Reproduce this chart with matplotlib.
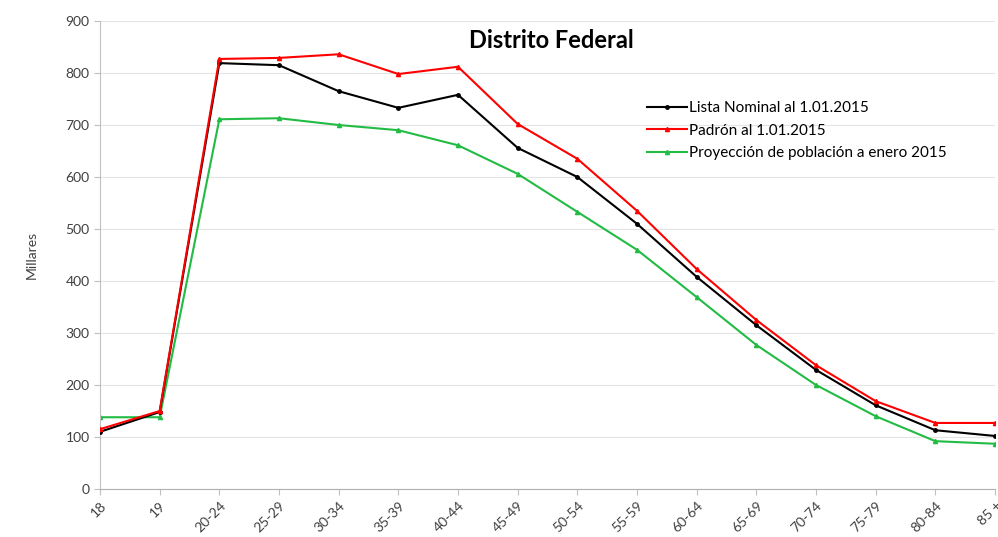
import matplotlib.pyplot as plt

plt.rcParams['font.family'] = ['Lato', 'DejaVu Sans']

edades = ['18', '19', '20-24', '25-29', '30-34', '35-39', '40-44', '45-49', '50-54',
          '55-59', '60-64', '65-69', '70-74', '75-79', '80-84', '85 +']
lista = [110, 148, 819, 815, 765, 733, 758, 656, 600, 510, 408, 315, 229, 161, 113, 102]
padron = [115, 150, 827, 829, 836, 798, 812, 702, 635, 535, 423, 325, 238, 169, 127, 127]
proyeccion = [138, 138, 711, 713, 700, 690, 661, 606, 533, 460, 369, 277, 200, 140, 92, 87]

fig = plt.figure(figsize=(9.98, 5.37), dpi=100)
ax = fig.add_axes([100/998, 1 - 489/537, 895/998, 468/537])

x = range(len(edades))
ax.plot(x, lista, color='black', lw=1.5, marker='o', ms=2.5, label='Lista Nominal al 1.01.2015', zorder=3)
ax.plot(x, padron, color='red', lw=1.5, marker='^', ms=3, label='Padrón al 1.01.2015', zorder=3)
ax.plot(x, proyeccion, color='#22bb44', lw=1.5, marker='^', ms=3, label='Proyección de población a enero 2015', zorder=2)

ax.set_xlim(0, len(edades) - 1)
ax.set_ylim(0, 900)
ax.set_yticks(range(0, 901, 100))
ax.set_xticks(list(x))
ax.set_xticklabels(edades, rotation=45, ha='right', rotation_mode='anchor')
ax.tick_params(labelsize=10, colors='#404040', length=4)
ax.tick_params(axis='x', color='#c0c0c0')
ax.tick_params(axis='y', color='#c0c0c0')
ax.grid(axis='y', color='#e4e4e4', lw=0.8)
ax.set_axisbelow(True)
for s in ['top', 'right']:
    ax.spines[s].set_visible(False)
ax.spines['left'].set_color('#c0c0c0')
ax.spines['bottom'].set_color('#b0b0b0')

ax.set_ylabel('Millares', fontsize=10, color='#404040', labelpad=20)
fig.text(0.552, 0.925, 'Distrito Federal', fontsize=17, fontweight='bold', ha='center', va='center')

ax.legend(loc='upper left', bbox_to_anchor=(0.603, 0.845), frameon=False, fontsize=11,
          handlelength=2.6, handletextpad=0.15, labelspacing=0.55, borderpad=0)

fig.savefig('out.png', dpi=100)
